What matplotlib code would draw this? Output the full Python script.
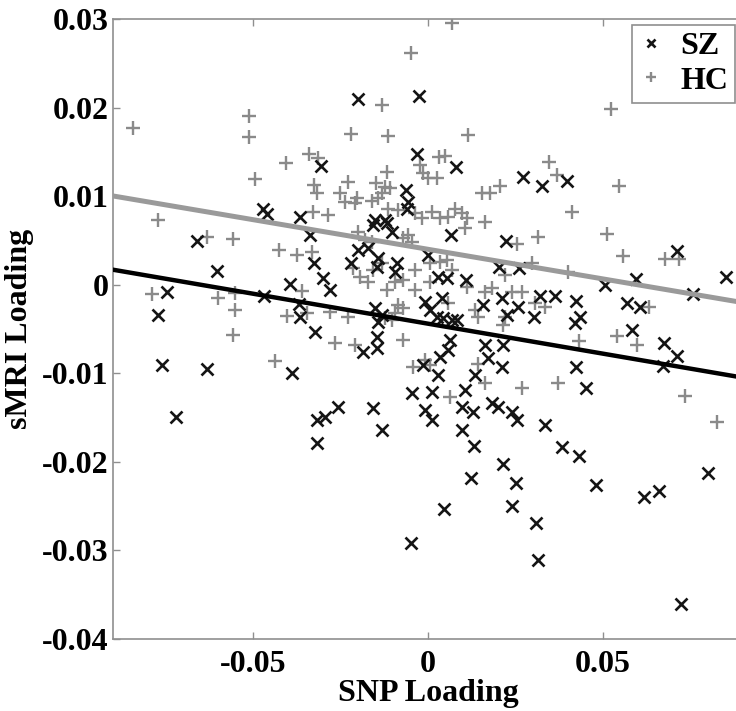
import matplotlib

matplotlib.use("Agg")
import matplotlib.pyplot as plt
import numpy as np

# SZ subjects (x = SNP loading, y = sMRI loading)
SZ_POINTS = [
    (-0.0471, 0.0085), (-0.0460, 0.0080), (-0.0366, 0.0076), (-0.0306, 0.0134),
    (-0.0200, 0.0210), (-0.0026, 0.0213), (-0.0031, 0.0148), (0.0080, 0.0133),
    (0.0271, 0.0122), (-0.0063, 0.0107), (-0.0057, 0.0093), (-0.0060, 0.0086),
    (-0.0151, 0.0073), (-0.0123, 0.0073), (0.0326, 0.0111), (0.0397, 0.0117),
    (-0.0660, 0.0049), (-0.0337, 0.0056), (-0.0326, 0.0025), (-0.0603, 0.0015),
    (-0.0394, 0.0001), (-0.0746, -0.0008), (-0.0469, -0.0013), (-0.0369, -0.0022),
    (-0.0366, -0.0036), (-0.0771, -0.0034), (-0.0323, -0.0053), (-0.0760, -0.0091),
    (-0.0631, -0.0095), (-0.0389, -0.0100), (-0.0720, -0.0149), (-0.0317, -0.0153),
    (-0.0157, 0.0067), (-0.0117, 0.0070), (-0.0103, 0.0059), (0.0066, 0.0056),
    (0.0223, 0.0049), (-0.0200, 0.0039), (-0.0171, 0.0041), (-0.0143, 0.0030),
    (-0.0146, 0.0020), (-0.0220, 0.0025), (-0.0089, 0.0025), (-0.0094, 0.0014),
    (-0.0300, 0.0008), (-0.0280, -0.0006), (0.0000, 0.0034), (0.0029, 0.0009),
    (0.0054, 0.0008), (0.0109, 0.0005), (0.0203, 0.0020), (0.0260, 0.0019),
    (0.0040, -0.0015), (-0.0009, -0.0020), (0.0006, -0.0028), (0.0026, -0.0036),
    (0.0157, -0.0023), (0.0211, -0.0015), (0.0257, -0.0025), (0.0226, -0.0034),
    (-0.0151, -0.0026), (-0.0131, -0.0034), (-0.0143, -0.0042), (0.0043, -0.0038),
    (0.0069, -0.0040), (0.0083, -0.0040), (-0.0146, -0.0059), (-0.0146, -0.0072),
    (-0.0186, -0.0076), (0.0063, -0.0062), (0.0057, -0.0074), (0.0034, -0.0082),
    (0.0163, -0.0068), (0.0214, -0.0068), (0.0171, -0.0083), (0.0211, -0.0093),
    (-0.0014, -0.0091), (0.0029, -0.0102), (0.0134, -0.0102), (-0.0046, -0.0122),
    (0.0011, -0.0121), (0.0106, -0.0119), (-0.0009, -0.0142), (0.0011, -0.0153),
    (0.0097, -0.0138), (0.0129, -0.0144), (0.0183, -0.0133), (0.0200, -0.0138),
    (0.0240, -0.0144), (0.0254, -0.0153), (-0.0157, -0.0139), (-0.0257, -0.0138),
    (-0.0294, -0.0149), (-0.0131, -0.0164), (0.0097, -0.0164),
    (0.0711, 0.0038), (0.0506, 0.0000), (0.0594, 0.0006), (0.0851, 0.0009),
    (0.0757, -0.0011), (0.0320, -0.0013), (0.0363, -0.0013), (0.0303, -0.0036),
    (0.0423, -0.0018), (0.0434, -0.0036), (0.0420, -0.0043), (0.0569, -0.0021),
    (0.0606, -0.0025), (0.0583, -0.0051), (0.0674, -0.0066), (0.0711, -0.0080),
    (0.0671, -0.0092), (0.0423, -0.0093), (0.0451, -0.0117), (0.0334, -0.0158),
    (-0.0317, -0.0179), (0.0131, -0.0182), (0.0214, -0.0202), (0.0123, -0.0218),
    (0.0251, -0.0224), (0.0240, -0.0250), (0.0046, -0.0253), (-0.0049, -0.0292),
    (0.0383, -0.0183), (0.0431, -0.0193), (0.0480, -0.0226), (0.0617, -0.0240),
    (0.0660, -0.0233), (0.0800, -0.0213), (0.0309, -0.0269), (0.0314, -0.0311),
    (0.0723, -0.0360),
]

# HC subjects
HC_POINTS = [
    (-0.0843, 0.0177), (-0.0511, 0.0191), (-0.0511, 0.0167), (-0.0340, 0.0148),
    (-0.0406, 0.0137), (-0.0494, 0.0119), (-0.0326, 0.0113), (-0.0317, 0.0104),
    (-0.0329, 0.0082), (-0.0771, 0.0073),
    (0.0069, 0.0295), (-0.0049, 0.0262), (-0.0131, 0.0203), (-0.0220, 0.0170),
    (-0.0114, 0.0168), (0.0114, 0.0169), (0.0031, 0.0144), (0.0049, 0.0145),
    (-0.0314, 0.0143), (-0.0023, 0.0135), (-0.0014, 0.0126), (0.0000, 0.0120),
    (0.0026, 0.0120), (-0.0117, 0.0127), (-0.0229, 0.0116), (-0.0251, 0.0104),
    (-0.0237, 0.0093), (-0.0203, 0.0098), (-0.0209, 0.0092), (-0.0149, 0.0115),
    (-0.0123, 0.0110), (-0.0109, 0.0109), (-0.0131, 0.0104), (-0.0160, 0.0095),
    (-0.0143, 0.0098), (0.0154, 0.0103), (0.0177, 0.0103), (0.0206, 0.0111),
    (-0.0114, 0.0085), (-0.0086, 0.0084), (-0.0037, 0.0081), (-0.0017, 0.0075),
    (0.0011, 0.0082), (0.0034, 0.0075), (0.0057, 0.0076), (0.0077, 0.0086),
    (0.0097, 0.0081), (0.0111, 0.0075), (0.0163, 0.0071), (-0.0286, 0.0079),
    (0.0523, 0.0198), (0.0346, 0.0139), (0.0369, 0.0124), (0.0546, 0.0112),
    (0.0411, 0.0082),
    (-0.0631, 0.0054), (-0.0557, 0.0052), (-0.0426, 0.0039), (-0.0374, 0.0034),
    (-0.0331, 0.0037), (-0.0789, -0.0011), (-0.0600, -0.0015), (-0.0551, -0.0009),
    (-0.0360, -0.0007), (-0.0346, -0.0032), (-0.0403, -0.0035), (-0.0551, -0.0028),
    (-0.0557, -0.0057), (-0.0437, -0.0086),
    (0.0106, 0.0064), (0.0254, 0.0046), (-0.0200, 0.0059), (-0.0180, 0.0050),
    (-0.0160, 0.0048), (-0.0071, 0.0053), (-0.0046, 0.0048), (-0.0057, 0.0056),
    (-0.0214, 0.0019), (-0.0194, 0.0009), (-0.0171, 0.0003), (-0.0157, 0.0017),
    (-0.0131, 0.0025), (-0.0037, 0.0017), (0.0006, 0.0025), (0.0034, 0.0026),
    (0.0054, 0.0028), (0.0069, 0.0017), (0.0006, 0.0003), (-0.0037, -0.0006),
    (-0.0117, -0.0006), (-0.0094, 0.0003), (-0.0071, 0.0005), (0.0111, -0.0003),
    (0.0163, -0.0008), (0.0183, -0.0004), (0.0240, -0.0008), (0.0269, -0.0008),
    (0.0220, 0.0011), (0.0057, -0.0021), (0.0134, -0.0029), (0.0143, -0.0036),
    (0.0220, -0.0036), (0.0214, -0.0045), (-0.0086, -0.0023), (-0.0071, -0.0026),
    (-0.0094, -0.0032), (-0.0103, -0.0040), (-0.0123, -0.0038), (-0.0229, -0.0036),
    (-0.0280, -0.0031), (-0.0266, -0.0066), (-0.0209, -0.0068), (-0.0071, -0.0062),
    (-0.0043, -0.0093), (-0.0009, -0.0085), (0.0006, -0.0091), (0.0143, -0.0089),
    (0.0163, -0.0111), (0.0063, -0.0127), (0.0269, -0.0117),
    (0.0314, 0.0054), (0.0511, 0.0057), (0.0557, 0.0032), (0.0677, 0.0029),
    (0.0717, 0.0029), (0.0297, 0.0024), (0.0400, 0.0014), (0.0306, -0.0021),
    (0.0334, -0.0025), (0.0631, -0.0025), (0.0540, -0.0058), (0.0597, -0.0068),
    (0.0431, -0.0064), (0.0371, -0.0111), (0.0734, -0.0126), (0.0826, -0.0155),
]

# fitted lines: (slope, intercept)
SZ_FIT = (-0.0677, -0.0044)
HC_FIT = (-0.0669, 0.0040)

X_LIM = (-0.09, 0.09)
Y_LIM = (-0.04, 0.03)
X_TICKS = [-0.05, 0, 0.05]
X_TICK_LABELS = ["-0.05", "0", "0.05"]
Y_TICKS = [-0.04, -0.03, -0.02, -0.01, 0, 0.01, 0.02, 0.03]
Y_TICK_LABELS = ["-0.04", "-0.03", "-0.02", "-0.01", "0", "0.01", "0.02", "0.03"]

SZ_COLOR = "#151515"
HC_COLOR = "#8a8a8a"
HC_LINE_COLOR = "#9a9a9a"
SPINE_COLOR = "#8f8f8f"

plt.rcParams["font.family"] = ["Liberation Serif", "DejaVu Serif"]
plt.rcParams["font.weight"] = "bold"

W, H = 736, 711
fig = plt.figure(figsize=(W / 100, H / 100), dpi=100)
# axes run past the right edge, like the cropped original
ax = fig.add_axes([113 / W, 1 - 639 / H, 630 / W, 620 / H])

sz = np.array(SZ_POINTS)
hc = np.array(HC_POINTS)

ax.plot(hc[:, 0], hc[:, 1], linestyle="none", marker="+", ms=10, mew=1.7,
        color=HC_COLOR, label="HC", zorder=2)
ax.plot(sz[:, 0], sz[:, 1], linestyle="none", marker="x", ms=8.5, mew=1.9,
        color=SZ_COLOR, label="SZ", zorder=3)

xs = np.array(X_LIM)
ax.plot(xs, SZ_FIT[0] * xs + SZ_FIT[1], color="black", lw=3.2, zorder=4)
ax.plot(xs, HC_FIT[0] * xs + HC_FIT[1], color=HC_LINE_COLOR, lw=3.6, zorder=4)

ax.set_xlim(*X_LIM)
ax.set_ylim(*Y_LIM)
ax.set_xticks(X_TICKS)
ax.set_xticklabels(X_TICK_LABELS)
ax.set_yticks(Y_TICKS)
ax.set_yticklabels(Y_TICK_LABELS)

for spine in ax.spines.values():
    spine.set_color(SPINE_COLOR)
    spine.set_linewidth(1.2)

ax.tick_params(axis="both", direction="in", length=5, width=1, color=SPINE_COLOR,
               labelsize=23, top=True, right=True)
ax.tick_params(axis="x", pad=8)
ax.tick_params(axis="y", pad=3)

ax.set_xlabel("SNP Loading", fontsize=23, fontweight="bold", labelpad=0)
ax.set_ylabel("sMRI Loading", fontsize=23, fontweight="bold", labelpad=6)

handles, labels = ax.get_legend_handles_labels()
leg = ax.legend(handles[::-1], labels[::-1], loc="upper right",
                bbox_to_anchor=(735 / W, 1 - 25 / H), bbox_transform=fig.transFigure,
                borderaxespad=0, fancybox=False, framealpha=1, edgecolor=SPINE_COLOR,
                prop={"size": 23, "weight": "bold"}, handlelength=0.8, markerscale=0.75,
                handletextpad=0.5, labelspacing=0.15, borderpad=0.22)
leg.get_frame().set_linewidth(1.2)

fig.savefig("out.png", dpi=100)
